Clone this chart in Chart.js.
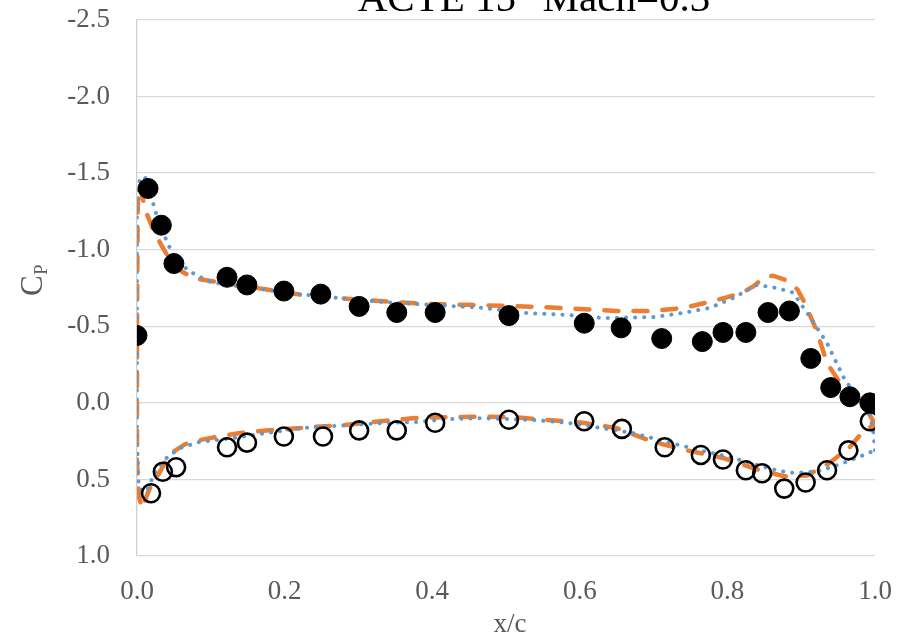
<!DOCTYPE html>
<html lang="en">
<head>
<meta charset="UTF-8">
<title>ACTE 15° Mach=0.3</title>
<script src="https://cdn.jsdelivr.net/npm/chart.js"></script>
<style>
  html, body { margin: 0; padding: 0; background: #fff; }
  #wrap { width: 913px; height: 638px; position: relative; }
</style>
</head>
<body>
<div id="wrap"><canvas id="grafico"></canvas></div>
<script>
// experiment, upper surface (filled circles)
const expUpperX  = [0.0, 0.015, 0.033, 0.050, 0.122, 0.149, 0.199, 0.249, 0.301, 0.352, 0.404, 0.504, 0.606, 0.656, 0.711, 0.766, 0.794, 0.825, 0.855, 0.884, 0.913, 0.940, 0.966, 0.993];
const expUpperCp = [-0.44, -1.40, -1.16, -0.91, -0.82, -0.77, -0.73, -0.71, -0.63, -0.59, -0.59, -0.57, -0.52, -0.49, -0.42, -0.40, -0.46, -0.46, -0.59, -0.60, -0.29, -0.10, -0.04, 0.0];

// experiment, lower surface (open circles)
const expLowerX  = [0.019, 0.035, 0.053, 0.122, 0.149, 0.199, 0.252, 0.301, 0.352, 0.404, 0.504, 0.606, 0.657, 0.715, 0.764, 0.794, 0.825, 0.847, 0.877, 0.906, 0.935, 0.964, 0.993];
const expLowerCp = [0.59, 0.45, 0.42, 0.29, 0.26, 0.22, 0.22, 0.18, 0.18, 0.13, 0.11, 0.12, 0.17, 0.29, 0.34, 0.37, 0.44, 0.46, 0.56, 0.52, 0.44, 0.31, 0.12];

// CFD 1 (orange dashed), TE -> upper -> LE -> lower -> TE
const cfd1X  = [1.0, 0.993, 0.97, 0.95, 0.935, 0.921, 0.905, 0.895, 0.88, 0.862, 0.85, 0.835, 0.82, 0.80, 0.776, 0.75, 0.73, 0.70, 0.65, 0.60, 0.55, 0.50, 0.45, 0.40, 0.36, 0.316, 0.27, 0.23, 0.176, 0.12, 0.076, 0.06, 0.045, 0.033, 0.022, 0.012, 0.006, 0.003, 0.001, 0.0, 0.0, 0.0, 0.003, 0.007, 0.012, 0.018, 0.027, 0.038, 0.049, 0.065, 0.085, 0.11, 0.14, 0.184, 0.238, 0.28, 0.33, 0.374, 0.42, 0.467, 0.51, 0.557, 0.604, 0.65, 0.70, 0.745, 0.794, 0.844, 0.878, 0.908, 0.939, 0.966, 0.985, 1.0];
const cfd1Cp = [0.14, 0.08, -0.06, -0.15, -0.26, -0.47, -0.65, -0.74, -0.80, -0.83, -0.82, -0.76, -0.72, -0.69, -0.66, -0.63, -0.615, -0.60, -0.60, -0.613, -0.625, -0.633, -0.64, -0.645, -0.655, -0.67, -0.685, -0.70, -0.74, -0.78, -0.815, -0.86, -0.93, -1.03, -1.13, -1.25, -1.37, -1.42, -1.30, -0.50, 0.0, 0.40, 0.62, 0.69, 0.62, 0.55, 0.485, 0.39, 0.32, 0.27, 0.243, 0.22, 0.197, 0.177, 0.158, 0.145, 0.12, 0.10, 0.093, 0.09, 0.093, 0.112, 0.13, 0.165, 0.255, 0.31, 0.36, 0.44, 0.48, 0.475, 0.39, 0.288, 0.18, 0.14];

// CFD 2 (blue dotted)
const cfd2X  = [1.0, 0.998, 0.993, 0.98, 0.957, 0.935, 0.912, 0.889, 0.867, 0.84, 0.808, 0.776, 0.74, 0.70, 0.632, 0.583, 0.528, 0.469, 0.424, 0.379, 0.33, 0.26, 0.20, 0.167, 0.13, 0.099, 0.08, 0.068, 0.049, 0.04, 0.03, 0.022, 0.011, 0.004, 0.0, 0.0, 0.0, 0.002, 0.006, 0.013, 0.02, 0.027, 0.04, 0.058, 0.085, 0.13, 0.176, 0.225, 0.266, 0.333, 0.379, 0.424, 0.469, 0.537, 0.583, 0.637, 0.672, 0.718, 0.763, 0.808, 0.84, 0.867, 0.885, 0.921, 0.953, 0.98, 1.0];
const cfd2Cp = [0.31, 0.20, 0.07, 0.0, -0.17, -0.39, -0.56, -0.72, -0.75, -0.77, -0.685, -0.62, -0.587, -0.56, -0.554, -0.574, -0.587, -0.62, -0.633, -0.645, -0.66, -0.69, -0.72, -0.745, -0.765, -0.79, -0.835, -0.87, -0.965, -1.06, -1.17, -1.30, -1.47, -1.47, -1.30, -0.50, 0.20, 0.52, 0.57, 0.58, 0.50, 0.425, 0.36, 0.295, 0.255, 0.23, 0.197, 0.164, 0.151, 0.132, 0.125, 0.105, 0.10, 0.112, 0.13, 0.17, 0.197, 0.255, 0.31, 0.36, 0.406, 0.44, 0.457, 0.45, 0.40, 0.35, 0.31];

const xTicks = [0.0, 0.2, 0.4, 0.6, 0.8, 1.0];
const yTicks = [-2.5, -2.0, -1.5, -1.0, -0.5, 0.0, 0.5, 1.0];

function pares(xs, ys) {
    return xs.map((x, i) => ({ x: x, y: ys[i] }));
}

const fonte = "'Liberation Serif', 'Times New Roman', serif";
const cinza = '#595959';

// title and axis titles drawn by hand (title sits partly above the canvas edge)
const textos = {
    id: 'textos',
    afterDraw(chart) {
        const ctx = chart.ctx;
        const area = chart.chartArea;
        ctx.save();
        ctx.fillStyle = '#000';
        ctx.font = '41px ' + fonte;
        ctx.textAlign = 'center';
        ctx.textBaseline = 'alphabetic';
        ctx.fillText('ACTE 15° Mach=0.3', 534, 11);

        ctx.fillStyle = cinza;
        ctx.font = '27px ' + fonte;
        ctx.fillText('x/c', (area.left + area.right) / 2 + 4, 632);

        ctx.translate(42, 283);
        ctx.rotate(-Math.PI / 2);
        ctx.textAlign = 'left';
        ctx.font = '31px ' + fonte;
        ctx.fillText('C', -13, 0);
        ctx.font = '19px ' + fonte;
        ctx.fillText('P', 8, 5);
        ctx.restore();
    }
};

new Chart(document.getElementById('grafico'), {
    type: 'scatter',
    data: {
        datasets: [
            {
                label: 'Exp upper',
                data: pares(expUpperX, expUpperCp),
                pointRadius: 10,
                pointBackgroundColor: '#000',
                pointBorderColor: '#000',
                pointBorderWidth: 1,
                order: 0
            },
            {
                label: 'Exp lower',
                data: pares(expLowerX, expLowerCp),
                pointRadius: 9,
                pointBackgroundColor: 'rgba(0,0,0,0)',
                pointBorderColor: '#000',
                pointBorderWidth: 2.6,
                order: 0
            },
            {
                label: 'CFD 1',
                data: pares(cfd1X, cfd1Cp),
                showLine: true,
                pointRadius: 0,
                borderColor: '#ED7D31',
                borderWidth: 4.5,
                borderDash: [14, 15],
                borderCapStyle: 'round',
                tension: 0,
                order: 2
            },
            {
                label: 'CFD 2',
                data: pares(cfd2X, cfd2Cp),
                showLine: true,
                pointRadius: 0,
                borderColor: '#5B9BD5',
                borderWidth: 4,
                borderDash: [0.1, 9],
                borderCapStyle: 'round',
                tension: 0,
                order: 1
            }
        ]
    },
    options: {
        responsive: true,
        maintainAspectRatio: false,
        animation: false,
        layout: { padding: { top: 20, right: 38, left: 0, bottom: 0 } },
        plugins: {
            legend: { display: false },
            tooltip: { enabled: false }
        },
        scales: {
            x: {
                type: 'linear',
                min: 0,
                max: 1,
                afterFit(scale) { scale.height = 82; },
                afterBuildTicks(scale) { scale.ticks = xTicks.map(v => ({ value: v })); },
                grid: { display: false, drawTicks: false },
                border: { display: false },
                ticks: {
                    padding: 20,
                    color: cinza,
                    font: { family: fonte, size: 27 },
                    callback: v => Number(v).toFixed(1)
                }
            },
            y: {
                type: 'linear',
                reverse: true,
                min: -2.5,
                max: 1.0,
                afterFit(scale) {
                    scale.width = 137;
                    // keep the label overflow from pushing the plot area down
                    scale.paddingTop = 0;
                    scale.paddingBottom = 0;
                },
                afterBuildTicks(scale) { scale.ticks = yTicks.map(v => ({ value: v })); },
                grid: { color: '#d9d9d9', lineWidth: 1.3, drawTicks: false },
                border: { display: true, color: '#d0d0d0', width: 1.3 },
                ticks: {
                    padding: 27,
                    color: cinza,
                    font: { family: fonte, size: 27 },
                    callback: v => Number(v).toFixed(1)
                }
            }
        }
    },
    plugins: [textos]
});
</script>
</body>
</html>
